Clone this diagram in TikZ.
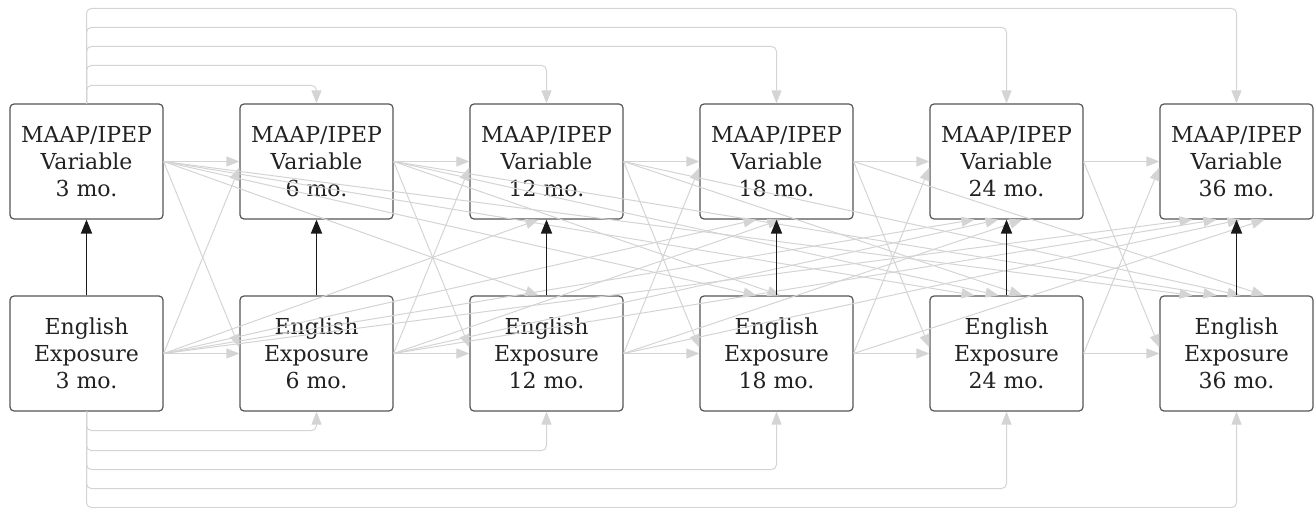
\documentclass[tikz,border=0pt]{standalone}
\usepackage{fontspec}
\setmainfont{DejaVu Serif}
\usetikzlibrary{arrows.meta,calc}
\definecolor{edgegray}{RGB}{212,212,212}
\definecolor{boxline}{RGB}{85,85,85}
\definecolor{inkc}{RGB}{34,34,34}
\begin{document}
\begin{tikzpicture}[x=1pt,y=-1pt,
  var/.style={draw=boxline, line width=1.2pt, fill=white, rounded corners=4pt,
    minimum width=153pt, minimum height=115pt, align=center, text=inkc,
    font=\fontsize{22}{27}\selectfont, inner sep=0pt},
  edge/.style={draw=edgegray, line width=1pt, -{Triangle[length=13pt,width=10pt]}},
  lag/.style={edge, rounded corners=5pt},
  link/.style={draw=black!90, line width=1.8pt, -{Triangle[length=14pt,width=11pt]}}]
\useasboundingbox (0,0) rectangle (1314,508);

% two rows of measurement boxes
\foreach \i/\t in {1/3,2/6,3/12,4/18,5/24,6/36} {
  \node[var] (m\i) at ({86.5+230*(\i-1)},161.5) {MAAP/IPEP\\Variable\\\t\ mo.};
  \node[var] (e\i) at ({86.5+230*(\i-1)},353.5) {English\\Exposure\\\t\ mo.};
}

% autoregressive paths from the 3 mo. boxes, routed above and below
\foreach \j/\h in {2/18,3/38,4/57,5/76,6/95}
  \draw[lag] (m1.north) -- ++(0,-\h) -| (m\j.north);
\foreach \j/\h in {2/19,3/39,4/58,5/77,6/96}
  \draw[lag] (e1.south) -- ++(0,\h) -| (e\j.south);

% adjacent waves
\foreach \i in {1,...,5} {
  \pgfmathtruncatemacro\n{\i+1}
  \draw[edge] (m\i.east) -- (m\n.west);
  \draw[edge] (e\i.east) -- (e\n.west);
  \draw[edge] (m\i.east) -- ($(e\n.west)+(0,-6)$);
  \draw[edge] (e\i.east) -- ($(m\n.west)+(0,6)$);
}

% cross-lagged paths to later waves
\foreach \j in {3,...,6} {
  \pgfmathtruncatemacro\n{\j-2}
  \foreach \i in {1,...,\n} {
    \pgfmathsetmacro\off{24*(\i-1-(\n-1)/2)-8}
    \draw[edge] (m\i.east) -- ($(e\j.north)+(\off,0)$);
    \draw[edge] (e\i.east) -- ($(m\j.south)+(\off,0)$);
  }
}

% concurrent paths
\foreach \i in {1,...,6}
  \draw[link] (e\i.north) -- (m\i.south);
\end{tikzpicture}
\end{document}
